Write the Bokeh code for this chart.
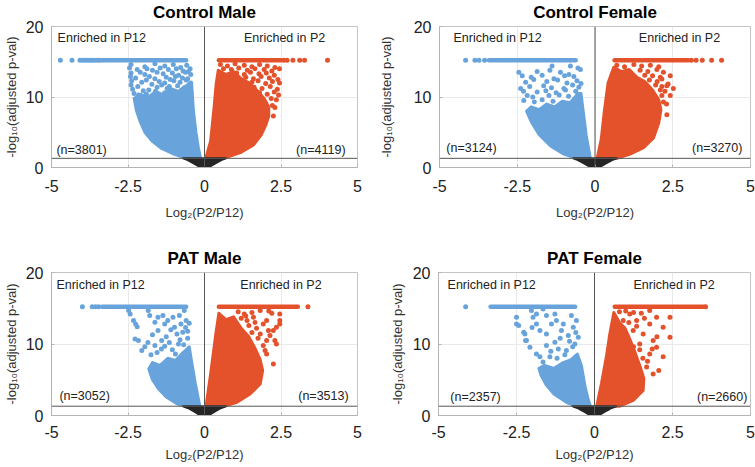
from bokeh.plotting import figure
from bokeh.layouts import row, column
from bokeh.models import Span, Label, FixedTicker, CustomJSTickFormatter
from bokeh.embed import file_html
from bokeh.resources import INLINE

FONT = "Liberation Sans"
BLUE = "#68a4db"
RED = "#e4522c"
DARK = "#262626"

titles = ["Control Male", "Control Female", "PAT Male", "PAT Female"]
n_left = ["(n=3801)", "(n=3124)", "(n=3052)", "(n=2357)"]
n_right = ["(n=4119)", "(n=3270)", "(n=3513)", "(n=2660)"]
x_ticks = [-5, -2.5, 0, 2.5, 5]
y_ticks = [0, 10, 20]
cap_y = 15.2
threshold = 1.3

# text anchor positions (data units)
p12_x = [-4.8, -4.55, -4.84, -4.71]
p2_x = [1.29, 1.41, 1.17, 1.25]
enr_y = 18.3
nleft_x = [-4.84, -4.78, -4.74, -4.62]
nright_x = [4.61, 4.74, 4.71, 4.9]
n_y = [2.5, 2.8, 2.7, 2.56]

# non-significant genes (black, below threshold)
black_x = [-0.70, -0.55, -0.40, -0.20, 0.0, 0.20, 0.40, 0.55, 0.70]
black_y = [1.3, 1.05, 0.7, 0.2, -0.1, 0.2, 0.7, 1.05, 1.3]

# ---------------- Control Male ----------------
cm_blue_cap_x = [-4.71, -4.33, -4.07, -3.99, -3.92, -3.84, -3.76, -3.68, -3.60, -3.50, -3.42]
cm_blue_band = [-3.35, -0.60]
cm_red_cap_x = [2.59, 2.70, 2.89, 3.11, 3.27, 4.02]
cm_red_band = [0.47, 2.50]
cm_blue_poly_x = [-0.13, -0.60, -1.00, -1.40, -1.70, -1.95, -2.10, -2.22, -2.30, -2.10, -1.85, -1.60, -1.35, -1.10, -0.85, -0.60, -0.42, -0.36, -0.28, -0.20]
cm_blue_poly_y = [1.3, 1.3, 1.9, 2.7, 3.7, 5.0, 6.5, 8.0, 9.8, 10.4, 9.9, 10.8, 10.3, 11.2, 10.8, 11.6, 11.8, 8.0, 5.0, 2.8]
cm_blue_pts_x = [-2.40, -1.95, -1.62, -1.30, -1.02, -0.78, -0.58, -0.47,
                 -2.45, -2.20, -1.88, -1.70, -1.45, -1.18, -0.92, -0.70, -0.52,
                 -2.40, -2.10, -1.95, -1.55, -1.35, -1.05, -0.85, -0.62, -0.45,
                 -2.42, -2.25, -1.80, -1.62, -1.25, -1.12, -0.95, -0.72, -0.55,
                 -2.38, -2.05, -1.90, -1.48, -1.30, -1.00, -0.80, -0.60, -0.45,
                 -2.40, -2.18, -1.72, -1.55, -1.40, -1.15, -0.88, -0.66, -0.50,
                 -2.35, -2.00, -1.82, -1.60, -1.22, -1.05, -0.75, -0.58, -0.44,
                 -2.30, -2.15, -1.90, -1.45, -1.30, -0.95, -0.70, -0.52]
cm_blue_pts_y = [14.6, 14.3, 14.7, 14.4, 14.6, 14.2, 14.5, 14.0,
                 14.1, 13.9, 14.0, 13.8, 14.1, 13.9, 14.0, 13.7, 13.6,
                 13.4, 13.5, 13.2, 13.5, 13.3, 13.4, 13.1, 13.5, 13.2,
                 12.9, 12.7, 12.9, 12.6, 12.8, 12.5, 12.9, 12.7, 12.6,
                 12.3, 12.1, 12.4, 12.2, 12.0, 12.3, 12.1, 12.4, 12.0,
                 11.7, 11.5, 11.8, 11.4, 11.7, 11.5, 11.6, 11.3, 11.8,
                 11.1, 10.9, 11.0, 10.8, 11.2, 10.9, 11.0, 10.7, 10.6,
                 10.5, 10.3, 10.4, 10.2, 10.6, 10.3, 10.4, 10.1]
cm_red_poly_x = [0.04, 0.20, 0.31, 0.38, 0.45, 0.70, 0.95, 1.20, 1.45, 1.70, 1.95, 2.10, 2.10, 2.00, 1.85, 1.60, 1.17, 0.65, 0.30]
cm_red_poly_y = [1.3, 3.75, 8.4, 11.8, 13.8, 13.2, 13.6, 12.6, 12.0, 11.0, 9.8, 8.6, 7.3, 6.0, 4.6, 3.2, 2.1, 1.35, 1.3]
cm_red_pts_x = [0.52, 0.75, 1.00, 1.30, 1.55, 1.80, 2.05, 2.30,
                0.62, 0.88, 1.12, 1.40, 1.65, 1.95, 2.20, 2.45,
                1.05, 1.30, 1.50, 1.78, 2.02, 2.28,
                1.35, 1.60, 1.85, 2.12, 2.40,
                1.55, 1.75, 2.00, 2.22, 2.45,
                1.62, 1.88, 2.15, 2.38,
                1.80, 2.05, 2.28, 2.42,
                2.18, 2.35, 2.22, 2.30, 2.25]
cm_red_pts_y = [14.6, 14.4, 14.7, 14.5, 14.3, 14.6, 14.4, 14.2,
                14.0, 13.9, 14.1, 13.8, 14.0, 13.9, 13.7, 14.0,
                13.4, 13.2, 13.5, 13.3, 13.4, 13.1,
                12.8, 12.6, 12.9, 12.7, 12.5,
                12.1, 12.3, 11.9, 12.2, 12.0,
                11.4, 11.2, 11.5, 11.1,
                10.6, 10.4, 10.7, 10.3,
                9.8, 9.6, 8.8, 8.5, 7.3]

# ---------------- Control Female ----------------
cf_blue_cap_x = [-4.16, -3.86, -3.73, -3.55]
cf_blue_band = [-3.41, -0.62]
cf_red_cap_x = [3.10, 3.25, 3.45, 3.75, 4.07]
cf_red_band = [0.63, 3.00]
cf_blue_poly_x = [-0.15, -0.60, -1.00, -1.43, -1.80, -2.05, -2.20, -2.05, -1.80, -1.55, -1.30, -1.05, -0.80, -0.60, -0.45, -0.38, -0.28, -0.20]
cf_blue_poly_y = [1.3, 1.3, 1.9, 3.05, 4.7, 6.5, 8.0, 8.6, 8.2, 9.0, 8.6, 9.4, 9.2, 10.2, 10.5, 8.0, 4.5, 2.5]
cf_blue_pts_x = [-1.38, -0.79, -0.55,
                 -2.45, -1.86, -1.45, -1.11, -0.84, -0.47,
                 -2.34, -2.05, -1.70, -1.32, -0.98, -0.68,
                 -2.23, -1.97, -1.55, -1.20, -0.90, -0.58, -0.45,
                 -2.39, -2.10, -1.65, -1.40, -1.00, -0.72, -0.52,
                 -2.30, -1.86, -1.58, -1.25, -0.95, -0.62,
                 -2.18, -2.00, -1.48, -1.15, -0.85, -0.55,
                 -2.29, -1.95, -1.70, -1.35]
cf_blue_pts_y = [14.4, 14.4, 14.1,
                 13.5, 13.6, 13.8, 13.5, 13.2, 13.9,
                 13.0, 12.8, 13.1, 12.6, 13.0, 12.9,
                 12.1, 12.5, 12.2, 12.4, 12.0, 12.3, 11.9,
                 11.2, 11.5, 11.6, 11.3, 11.2, 11.7, 11.4,
                 10.8, 10.7, 10.9, 10.6, 11.0, 10.8,
                 10.2, 10.0, 10.2, 10.3, 10.1, 10.4,
                 9.5, 9.3, 9.6, 9.4]
cf_red_poly_x = [0.07, 0.20, 0.30, 0.42, 0.60, 0.85, 1.10, 1.35, 1.60, 1.85, 2.05, 2.12, 2.05, 1.88, 1.56, 1.13, 0.70]
cf_red_poly_y = [1.3, 4.0, 8.0, 12.0, 14.2, 13.6, 13.9, 12.8, 12.2, 11.0, 9.6, 8.2, 6.3, 4.2, 2.8, 1.9, 1.3]
cf_red_pts_x = [0.70, 0.95, 1.25, 1.50, 1.78, 2.05, 1.45, 1.70, 1.99, 2.20, 1.60, 1.85, 2.10, 2.42,
                1.75, 2.00, 2.15, 2.35, 1.95, 2.15, 2.31, 2.10, 2.25, 2.52, 2.15, 2.42, 2.20, 2.30, 2.31]
cf_red_pts_y = [14.5, 14.3, 14.6, 14.4, 14.5, 14.3, 13.8, 13.6, 13.9, 13.5, 13.1, 13.0, 12.8, 13.0,
                12.4, 12.2, 12.55, 11.85, 11.7, 11.5, 11.6, 11.0, 10.8, 11.2, 10.2, 10.2, 9.3, 9.0, 7.5]

# ---------------- PAT Male ----------------
pm_blue_cap_x = [-3.99, -3.67, -3.56, -3.46]
pm_blue_band = [-3.35, -0.60]
pm_red_cap_x = [3.38]
pm_red_band = [0.47, 3.05]
pm_blue_poly_x = [-0.15, -0.60, -0.90, -1.25, -1.50, -1.70, -1.82, -1.70, -1.45, -1.20, -0.95, -0.70, -0.50, -0.42, -0.30, -0.20]
pm_blue_poly_y = [1.3, 1.3, 1.65, 2.6, 3.7, 5.0, 6.5, 7.4, 7.0, 8.0, 7.7, 8.8, 9.6, 7.5, 4.5, 2.3]
pm_blue_pts_x = [-2.48, -2.43, -2.32, -2.25, -2.27, -2.16, -2.20, -1.84, -1.79, -1.62, -1.52, -1.36, -1.30, -1.20,
                 -1.03, -0.98, -0.82, -0.77, -0.71, -0.66, -0.60, -1.52, -1.25, -1.95, -2.05, -1.62, -1.41,
                 -1.10, -0.90, -0.62, -0.55, -1.70, -1.85, -1.40, -1.15, -0.85, -0.55, -1.30, -1.05, -0.80,
                 -1.75, -1.55, -0.95, -0.68, -0.50]
pm_blue_pts_y = [14.7, 14.2, 13.3, 12.8, 10.7, 10.5, 12.4, 14.7, 14.0, 13.05, 13.75, 14.0, 12.8, 13.3,
                 13.75, 12.35, 14.0, 12.8, 11.65, 14.7, 13.3, 11.9, 11.0, 9.6, 9.1, 9.8, 9.3,
                 12.0, 11.4, 12.3, 10.8, 11.3, 10.2, 10.5, 10.2, 10.0, 11.8, 9.7, 9.2, 10.6,
                 8.5, 8.8, 8.6, 9.9, 12.9]
pm_red_poly_x = [0.05, 0.20, 0.37, 0.47, 0.70, 0.95, 1.20, 1.45, 1.65, 1.82, 1.90, 1.82, 1.49, 1.06, 0.63]
pm_red_poly_y = [1.3, 5.8, 11.4, 14.3, 13.4, 13.8, 12.2, 11.0, 9.4, 7.8, 6.3, 4.4, 3.0, 1.86, 1.3]
pm_red_pts_x = [2.46, 2.35, 2.25, 2.14, 2.03, 1.92, 1.82, 2.46, 2.03, 1.60, 1.92, 1.82, 1.39, 2.35, 2.03, 2.25,
                2.46, 2.09, 2.30, 1.98, 1.10, 1.30, 1.55, 1.20, 1.45, 1.70, 2.20, 1.55, 1.75, 1.65, 1.35, 2.10]
pm_red_pts_y = [12.8, 12.35, 11.9, 11.2, 10.5, 9.8, 11.4, 14.2, 13.3, 13.75, 12.8, 14.7, 13.3, 10.0, 8.6, 7.2,
                13.3, 11.9, 10.5, 9.1, 14.5, 14.2, 14.4, 13.6, 12.6, 12.2, 14.3, 11.6, 10.8, 13.0, 13.9, 14.6]

# ---------------- PAT Female ----------------
pf_blue_cap_x = [-4.13]
pf_blue_band = [-3.33, -0.62]
pf_red_cap_x = [3.56]
pf_red_band = [0.65, 3.50]
pf_blue_poly_x = [-0.13, -0.60, -0.90, -1.30, -1.55, -1.72, -1.78, -1.60, -1.30, -1.00, -0.75, -0.55, -0.42, -0.30, -0.20]
pf_blue_poly_y = [1.3, 1.3, 1.85, 3.0, 4.3, 5.7, 6.6, 7.0, 6.6, 7.4, 7.8, 8.6, 7.0, 4.0, 2.2]
pf_blue_pts_x = [-2.50, -2.50, -2.02, -1.97, -1.86, -1.65, -1.54, -1.27, -1.22, -1.38, -1.86, -1.75, -1.54,
                 -1.06, -1.00, -0.84, -0.74, -0.68, -0.63, -0.52, -2.23, -2.18, -2.07, -1.86, -1.54, -1.27,
                 -1.16, -0.90, -1.43, -1.65, -2.43, -2.27, -2.21,
                 -1.20, -0.95, -0.70, -0.60, -1.40, -1.10, -0.80, -0.58, -1.75, -2.00]
pf_blue_pts_y = [13.75, 12.8, 14.7, 13.75, 14.2, 14.9, 14.0, 14.2, 13.3, 12.8, 12.8, 11.9, 11.4,
                 11.9, 12.8, 11.2, 14.0, 12.35, 10.0, 10.95, 11.4, 10.5, 9.55, 8.6, 9.8, 10.25,
                 9.3, 9.1, 8.2, 7.5, 12.6, 11.65, 10.5,
                 8.0, 8.5, 9.6, 11.6, 9.0, 10.8, 10.4, 13.3, 8.2, 12.3]
pf_red_poly_x = [0.07, 0.22, 0.38, 0.49, 0.62, 0.80, 0.98, 1.15, 1.30, 1.45, 1.58, 1.56, 1.24, 0.81]
pf_red_poly_y = [1.3, 4.4, 8.2, 11.4, 14.4, 13.0, 12.2, 10.5, 8.8, 7.0, 5.2, 3.5, 2.1, 1.3]
pf_red_pts_x = [1.77, 1.99, 2.20, 2.42, 1.77, 1.56, 1.88, 1.99, 1.77, 2.20, 1.45, 1.35, 1.13, 0.92, 1.24, 2.42,
                1.67, 1.88, 2.06, 1.85, 0.80, 1.00, 1.25, 1.50, 1.10, 1.35, 1.60, 1.05, 1.45, 1.70, 2.00, 1.25, 1.55]
pf_red_pts_y = [14.7, 13.75, 12.35, 13.75, 12.8, 11.4, 10.5, 9.55, 8.6, 8.2, 10.0, 13.3, 14.2, 13.3, 11.9, 10.95,
                6.8, 5.8, 6.3, 9.3, 14.5, 14.6, 14.4, 14.3, 13.0, 12.5, 13.6, 11.0, 9.2, 7.6, 11.0, 9.6, 8.0]

panels = [
    dict(bcap=cm_blue_cap_x, bband=cm_blue_band, rcap=cm_red_cap_x, rband=cm_red_band,
         bpx=cm_blue_poly_x, bpy=cm_blue_poly_y, bsx=cm_blue_pts_x, bsy=cm_blue_pts_y,
         rpx=cm_red_poly_x, rpy=cm_red_poly_y, rsx=cm_red_pts_x, rsy=cm_red_pts_y),
    dict(bcap=cf_blue_cap_x, bband=cf_blue_band, rcap=cf_red_cap_x, rband=cf_red_band,
         bpx=cf_blue_poly_x, bpy=cf_blue_poly_y, bsx=cf_blue_pts_x, bsy=cf_blue_pts_y,
         rpx=cf_red_poly_x, rpy=cf_red_poly_y, rsx=cf_red_pts_x, rsy=cf_red_pts_y),
    dict(bcap=pm_blue_cap_x, bband=pm_blue_band, rcap=pm_red_cap_x, rband=pm_red_band,
         bpx=pm_blue_poly_x, bpy=pm_blue_poly_y, bsx=pm_blue_pts_x, bsy=pm_blue_pts_y,
         rpx=pm_red_poly_x, rpy=pm_red_poly_y, rsx=pm_red_pts_x, rsy=pm_red_pts_y),
    dict(bcap=pf_blue_cap_x, bband=pf_blue_band, rcap=pf_red_cap_x, rband=pf_red_band,
         bpx=pf_blue_poly_x, bpy=pf_blue_poly_y, bsx=pf_blue_pts_x, bsy=pf_blue_pts_y,
         rpx=pf_red_poly_x, rpy=pf_red_poly_y, rsx=pf_red_pts_x, rsy=pf_red_pts_y),
]

# layout: (width, height, border left, right, top, bottom, xlabel standoff, xaxis-label standoff,
#          yaxis-label standoff, title vertical align, title standoff)
geom = [
    (375, 230, 47, 18, 23, 63, 12, 10, 4, "top", 5),
    (380, 230, 63, 5, 23, 63, 12, 10, 17, "top", 5),
    (375, 237, 47, 18, 42, 52, 10, 6, 4, "bottom", 10),
    (380, 237, 63, 5, 42, 52, 10, 6, 5, "bottom", 10),
]


def make_panel(i):
    d = panels[i]
    w, h, bl, br, bt, bb, xs, xls, yls, tva, tso = geom[i]
    p = figure(width=w, height=h, x_range=(-5, 5), y_range=(0, 20),
               output_backend="svg", toolbar_location=None,
               min_border_left=bl, min_border_right=br,
               min_border_top=bt, min_border_bottom=bb)
    p.title.text = titles[i]
    p.title.align = "center"
    p.title.vertical_align = tva
    p.title.text_font = FONT
    p.title.text_font_size = "17px"
    p.title.text_font_style = "bold"
    p.title.text_color = "black"
    p.title.standoff = tso
    p.outline_line_color = "#c4c4c4"
    p.background_fill_color = "white"
    p.border_fill_color = "white"

    p.xaxis.ticker = FixedTicker(ticks=x_ticks)
    p.xaxis.formatter = CustomJSTickFormatter(code="return String(tick);")
    p.yaxis.ticker = FixedTicker(ticks=y_ticks)
    p.xgrid.ticker = FixedTicker(ticks=x_ticks)
    p.ygrid.ticker = FixedTicker(ticks=y_ticks)
    p.grid.grid_line_color = "#e9e9e9"

    p.axis.axis_line_color = "#b4b4b4"
    p.axis.major_tick_line_color = "#b4b4b4"
    p.axis.major_tick_in = 3
    p.axis.major_tick_out = 0
    p.axis.minor_tick_line_color = None
    p.axis.major_label_text_font = FONT
    p.axis.major_label_text_font_size = "16px"
    p.axis.major_label_text_color = "#222222"
    p.xaxis.major_label_standoff = xs
    p.yaxis.major_label_standoff = 8

    p.xaxis.axis_label = "Log\u2082(P2/P12)"
    p.yaxis.axis_label = "-log\u2081\u2080(adjusted p-val)"
    p.axis.axis_label_text_font = FONT
    p.axis.axis_label_text_font_style = "normal"
    p.axis.axis_label_text_font_size = "13px"
    p.axis.axis_label_text_color = "#333333"
    p.xaxis.axis_label_standoff = xls
    p.yaxis.axis_label_standoff = yls

    # significant genes
    p.patch(d["bpx"], d["bpy"], fill_color=BLUE, line_color=BLUE, line_width=3, line_join="round")
    p.patch(d["rpx"], d["rpy"], fill_color=RED, line_color=RED, line_width=3, line_join="round")
    p.scatter(d["bsx"], d["bsy"], size=5, fill_color=BLUE, line_color=None)
    p.scatter(d["rsx"], d["rsy"], size=5, fill_color=RED, line_color=None)
    p.scatter(d["bcap"], [cap_y] * len(d["bcap"]), size=5, fill_color=BLUE, line_color=None)
    p.scatter(d["rcap"], [cap_y] * len(d["rcap"]), size=5, fill_color=RED, line_color=None)
    p.segment(x0=[d["bband"][0]], y0=[cap_y], x1=[d["bband"][1]], y1=[cap_y],
              line_color=BLUE, line_width=4.5, line_cap="round")
    p.segment(x0=[d["rband"][0]], y0=[cap_y], x1=[d["rband"][1]], y1=[cap_y],
              line_color=RED, line_width=4.5, line_cap="round")
    # non-significant genes
    p.patch(black_x, black_y, fill_color=DARK, line_color=DARK, line_width=2, line_join="round")

    p.add_layout(Span(location=threshold, dimension="width", line_color="#555555", line_width=1))
    p.add_layout(Span(location=0, dimension="height", line_color="#555555", line_width=1))

    lab = dict(text_font=FONT, text_font_size="12.5px", text_color="#222222", text_baseline="middle")
    p.add_layout(Label(x=p12_x[i], y=enr_y, text="Enriched in P12", text_align="left", **lab))
    p.add_layout(Label(x=p2_x[i], y=enr_y, text="Enriched in P2", text_align="left", **lab))
    p.add_layout(Label(x=nleft_x[i], y=n_y[i], text=n_left[i], text_align="left", **lab))
    p.add_layout(Label(x=nright_x[i], y=n_y[i], text=n_right[i], text_align="right", **lab))
    return p


figs = [make_panel(i) for i in range(4)]
layout = column(row(figs[0], figs[1]), row(figs[2], figs[3]))

open("out.html", "w").write(file_html(layout, INLINE))
